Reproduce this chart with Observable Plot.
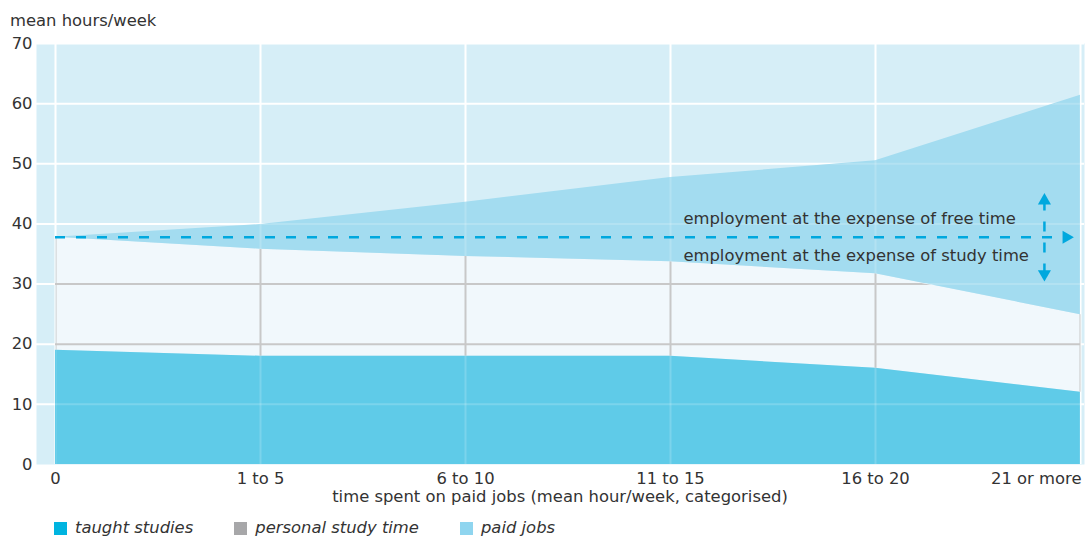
<!DOCTYPE html>
<html>
<head>
<meta charset="utf-8">
<script src="https://cdn.jsdelivr.net/npm/d3@7"></script>
<script src="https://cdn.jsdelivr.net/npm/@observablehq/plot@0.6"></script>
<style>
  body { margin: 0; background: #fff; font-family: "DejaVu Sans", sans-serif; color: #333; }
  #wrap { position: relative; width: 1086px; height: 539px; overflow: hidden; }
  .t { position: absolute; font-size: 16.4px; line-height: 20px; white-space: nowrap; color: #333; }
  #legend { position: absolute; left: 54px; top: 518px; display: flex; gap: 41px; font-size: 16.4px; line-height: 20px; font-style: italic; color: #333; }
  #legend .item { display: flex; align-items: center; gap: 8px; white-space: nowrap; }
  #legend .sw { width: 13px; height: 13px; display: inline-block; }
  #chart { position: absolute; left: 0; top: 0; }
</style>
</head>
<body>
<div id="wrap">
  <div id="chart"></div>
  <div class="t" style="left:10px; top:11px;">mean hours/week</div>
  <div class="t" style="left:36px; width:1048px; top:487px; text-align:center;">time spent on paid jobs (mean hour/week, categorised)</div>
  <div id="legend"></div>
</div>
<script>
// ---- data ----
const categories = ["0", "1 to 5", "6 to 10", "11 to 15", "16 to 20", "21 or more"];
const taught   = [19, 18, 18, 18, 16, 12];
const personal = [18.8, 17.8, 16.6, 15.7, 15.7, 12.9];
const paid     = [0, 4.1, 9.0, 14.0, 18.8, 36.5];
const yTicks = [0, 10, 20, 30, 40, 50, 60, 70];
const seriesNames = ["taught studies", "personal study time", "paid jobs"];
const legendColors = ["#00b4e0", "#a7a7a9", "#8fd5ef"];
const referenceLevel = 37.8;
const noteTexts = ["employment at the expense of free time", "employment at the expense of study time"];
const noteX = [3.063, 3.063];
const noteY = [40.02, 33.8];
const arrowRightX = 4.931;
const arrowVertX = 4.824;
const arrowUpY = 43.87;
const arrowDownY = 31.67;

// ---- derived table ----
const rows = categories.map((c, i) => ({
  i, c,
  t1: taught[i],
  p1: taught[i] + personal[i],
  j1: taught[i] + personal[i] + paid[i]
}));

const C = {
  bg: "#d6eef7", personal: "#f1f8fc", paid: "#a3dcf0", taught: "#5fcbe8",
  gray: "#c8c8c8", dash: "#00a8de", text: "#333", faint: "#fefefe"
};

function tri(angle) {
  return {
    draw(ctx, size) {
      const h = Math.sqrt(size / (3 * Math.sqrt(3)));
      const pts = [[0, -2 * h], [-Math.sqrt(3) * h, h], [Math.sqrt(3) * h, h]];
      const a = angle * Math.PI / 180, ca = Math.cos(a), sa = Math.sin(a);
      const r = pts.map(([x, y]) => [x * ca - y * sa, x * sa + y * ca]);
      ctx.moveTo(r[0][0], r[0][1]);
      ctx.lineTo(r[1][0], r[1][1]);
      ctx.lineTo(r[2][0], r[2][1]);
      ctx.closePath();
    }
  };
}

const gridY = yTicks.slice(1);
const dashStyle = {stroke: C.dash, strokeWidth: 2.5, strokeDasharray: "10,11"};
const lastIdx = categories.length - 1;

const svg = Plot.plot({
  width: 1086,
  height: 500,
  marginLeft: 36,
  marginRight: 2,
  marginTop: 43,
  marginBottom: 36,
  style: {fontFamily: '"DejaVu Sans", sans-serif', fontSize: "16.4px", color: C.text, background: "transparent", overflow: "visible"},
  x: {type: "linear", domain: [-0.0927, 5.0195], axis: null},
  y: {domain: [0, 70], ticks: yTicks, tickSize: 0, tickPadding: 4, label: null},
  marks: [
    Plot.frame({fill: C.bg, stroke: "none"}),
    Plot.ruleY(gridY, {stroke: "#fff", strokeWidth: 2}),
    Plot.ruleX(rows, {x: "i", stroke: "#fff", strokeWidth: 2}),
    Plot.areaY(rows, {x: "i", y1: "t1", y2: "p1", fill: C.personal}),
    Plot.ruleY(gridY, {stroke: C.gray, strokeWidth: 2}),
    Plot.ruleX(rows, {x: "i", stroke: C.gray, strokeWidth: 2}),
    Plot.areaY(rows, {x: "i", y1: "p1", y2: "j1", fill: C.paid}),
    Plot.areaY(rows, {x: "i", y1: 0, y2: "t1", fill: C.taught}),
    Plot.ruleY(gridY, {stroke: C.faint, strokeWidth: 2, strokeOpacity: 0.18}),
    Plot.ruleX(rows, {x: "i", stroke: C.faint, strokeWidth: 2, strokeOpacity: 0.18}),
    Plot.ruleY([referenceLevel], {x1: 0, x2: arrowRightX, ...dashStyle}),
    Plot.ruleX([arrowVertX], {y1: arrowDownY, y2: arrowUpY, ...dashStyle}),
    Plot.dot([0], {x: arrowRightX, y: referenceLevel, r: 4.85, symbol: tri(90), fill: C.dash}),
    Plot.dot([0], {x: arrowVertX, y: arrowUpY, r: 4.85, symbol: tri(0), fill: C.dash}),
    Plot.dot([0], {x: arrowVertX, y: arrowDownY, r: 4.85, symbol: tri(180), fill: C.dash}),
    Plot.text(noteTexts, {x: (d, i) => noteX[i], y: (d, i) => noteY[i], text: d => d, textAnchor: "start", lineAnchor: "bottom", fill: C.text, fontSize: 16.4}),
    // x tick labels
    Plot.text(rows.filter(d => d.i < lastIdx), {x: "i", y: 0, text: "c", textAnchor: "middle", lineAnchor: "bottom", dy: 19.5, fill: C.text, fontSize: 16.4}),
    Plot.text(rows.filter(d => d.i === lastIdx), {x: "i", y: 0, text: "c", textAnchor: "end", lineAnchor: "bottom", dy: 19.5, dx: 1, fill: C.text, fontSize: 16.4})
  ]
});

// clip grid layers to the bands they belong to
(function () {
  const s = d3.select(svg);
  const defs = s.insert("defs", ":first-child");
  function makeClip(id, fills) {
    const cp = defs.append("clipPath").attr("id", id);
    fills.forEach(f => {
      s.selectAll(`g[fill="${f}"] path`).each(function () {
        const g = this.parentNode;
        const p = cp.append("path").attr("d", this.getAttribute("d"));
        const tr = g.getAttribute("transform");
        if (tr) p.attr("transform", tr);
      });
    });
  }
  makeClip("clip-personal", [C.personal]);
  makeClip("clip-colored", [C.paid, C.taught]);
  s.selectAll(`g[stroke="${C.gray}"]`).attr("clip-path", "url(#clip-personal)");
  s.selectAll(`g[stroke="${C.faint}"]`).attr("clip-path", "url(#clip-colored)");
})();

document.getElementById("chart").appendChild(svg);

// legend
const legend = d3.select("#legend");
seriesNames.forEach((name, i) => {
  const item = legend.append("div").attr("class", "item");
  item.append("span").attr("class", "sw").style("background", legendColors[i]);
  item.append("span").text(name);
});
</script>
</body>
</html>
